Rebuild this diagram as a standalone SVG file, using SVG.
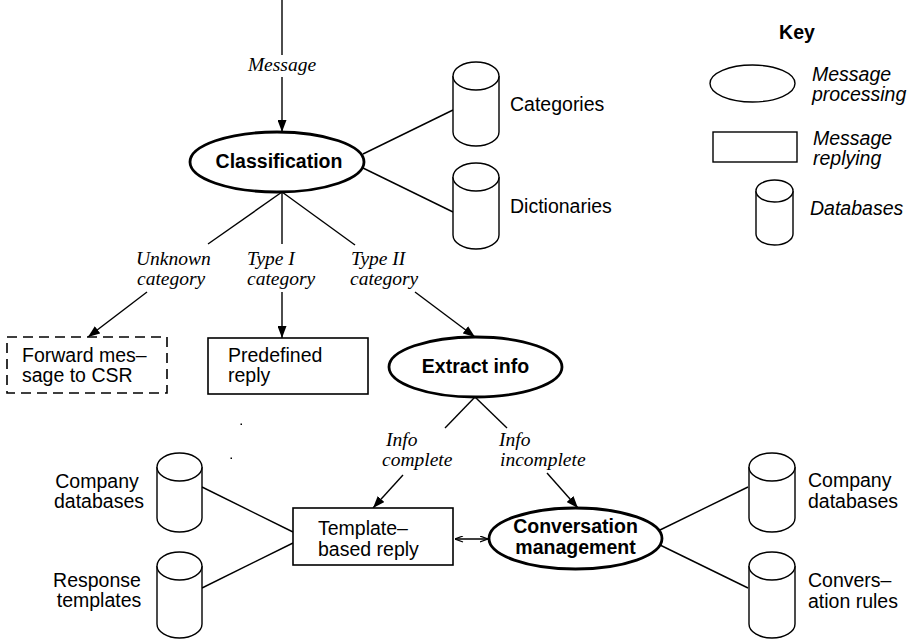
<svg xmlns="http://www.w3.org/2000/svg" width="913" height="641" viewBox="0 0 913 641">
<defs>
<marker id="arr" markerUnits="userSpaceOnUse" markerWidth="13" markerHeight="9" refX="12" refY="4.5" orient="auto"><path d="M0,0 L12,4.5 L0,9 z" fill="#000"/></marker>
<marker id="sarr" markerUnits="userSpaceOnUse" markerWidth="9" markerHeight="7" refX="8" refY="3" orient="auto"><path d="M0,0 L8,3 L0,6" fill="none" stroke="#000" stroke-width="1.3"/></marker>
<marker id="sarrs" markerUnits="userSpaceOnUse" markerWidth="9" markerHeight="7" refX="0" refY="3" orient="auto"><path d="M8,0 L0,3 L8,6" fill="none" stroke="#000" stroke-width="1.3"/></marker>
</defs>
<style>
.sans{font-family:"Liberation Sans",Arial,sans-serif;font-size:19.5px;fill:#000}
.b{font-weight:bold}
.it{font-style:italic}
.lbl{font-family:"Liberation Serif","Times New Roman",serif;font-style:italic;font-size:19.5px;fill:#000}
.proc{fill:#fff;stroke:#000;stroke-width:2.8}
.box{fill:#fff;stroke:#000;stroke-width:1.6}
.db{fill:#fff;stroke:#000;stroke-width:1.4}
.ln{fill:none;stroke:#000;stroke-width:1.4}
</style>
<rect width="913" height="641" fill="#fff"/>

<g id="connectors">
<line class="ln" x1="282" y1="0" x2="282" y2="55"/>
<line class="ln" x1="282" y1="77" x2="282" y2="132" marker-end="url(#arr)"/>
<line class="ln" x1="282" y1="192" x2="208" y2="244"/>
<line class="ln" x1="147" y1="292" x2="88" y2="337" marker-end="url(#arr)"/>
<line class="ln" x1="282" y1="192" x2="282" y2="244"/>
<line class="ln" x1="282" y1="292" x2="282" y2="338" marker-end="url(#arr)"/>
<line class="ln" x1="282" y1="192" x2="355" y2="245"/>
<line class="ln" x1="415" y1="292" x2="475" y2="337" marker-end="url(#arr)"/>
<line class="ln" x1="475" y1="397" x2="445" y2="428"/>
<line class="ln" x1="403" y1="475" x2="373" y2="508" marker-end="url(#arr)"/>
<line class="ln" x1="475" y1="397" x2="507" y2="428"/>
<line class="ln" x1="547" y1="473" x2="578" y2="508" marker-end="url(#arr)"/>
<line class="ln" x1="455" y1="539" x2="488" y2="539" marker-start="url(#sarrs)" marker-end="url(#sarr)"/>
<line class="ln" x1="363" y1="154" x2="453" y2="110"/>
<line class="ln" x1="363" y1="168" x2="453" y2="212"/>
<line class="ln" x1="202" y1="487" x2="293" y2="532"/>
<line class="ln" x1="202" y1="588" x2="293" y2="543"/>
<line class="ln" x1="660" y1="530" x2="748" y2="487"/>
<line class="ln" x1="660" y1="545" x2="748" y2="588"/>
<text class="lbl" x="282" y="71" text-anchor="middle">Message</text>
<text class="lbl" x="136" y="265">Unknown</text>
<text class="lbl" x="137" y="285">category</text>
<text class="lbl" x="247" y="265">Type I</text>
<text class="lbl" x="247" y="285">category</text>
<text class="lbl" x="351" y="265">Type II</text>
<text class="lbl" x="350" y="285">category</text>
<text class="lbl" x="386" y="446">Info</text>
<text class="lbl" x="382" y="466">complete</text>
<text class="lbl" x="499" y="446">Info</text>
<text class="lbl" x="500" y="466">incomplete</text>
</g>

<g id="classification">
<ellipse class="proc" cx="277" cy="162" rx="87" ry="30"/>
<text class="sans b" x="279" y="168" text-anchor="middle">Classification</text>
</g>

<g id="categories">
<path class="db" d="M453,76 V132 A23,14 0 0 0 499,132 V76"/>
<ellipse class="db" cx="476" cy="76" rx="23" ry="14"/>
<text class="sans" x="510" y="111">Categories</text>
</g>

<g id="dictionaries">
<path class="db" d="M453,177 V235 A23,14 0 0 0 499,235 V177"/>
<ellipse class="db" cx="476" cy="177" rx="23" ry="14"/>
<text class="sans" x="510" y="213">Dictionaries</text>
</g>

<g id="forward">
<rect class="box" x="7" y="337" width="160" height="56" stroke-dasharray="10,6"/>
<text class="sans" x="22" y="362">Forward mes–</text>
<text class="sans" x="22" y="382">sage to CSR</text>
</g>

<g id="predefined">
<rect class="box" x="208" y="338" width="160" height="56"/>
<text class="sans" x="228" y="362">Predefined</text>
<text class="sans" x="228" y="382">reply</text>
</g>

<g id="extract">
<ellipse class="proc" cx="475.5" cy="367" rx="86.5" ry="30"/>
<text class="sans b" x="475.5" y="373" text-anchor="middle">Extract info</text>
</g>

<g id="template">
<rect class="box" x="293" y="508" width="160" height="57"/>
<text class="sans" x="318" y="535">Template–</text>
<text class="sans" x="318" y="556">based reply</text>
</g>

<g id="conversation">
<ellipse class="proc" cx="575.5" cy="538.5" rx="86.5" ry="30.5"/>
<text class="sans b" x="575.5" y="533" text-anchor="middle">Conversation</text>
<text class="sans b" x="575.5" y="554" text-anchor="middle">management</text>
</g>

<g id="company-left">
<path class="db" d="M157,467 V518 A22.5,14 0 0 0 202,518 V467"/>
<ellipse class="db" cx="179.5" cy="467" rx="22.5" ry="14"/>
<text class="sans" x="97" y="488" text-anchor="middle">Company</text>
<text class="sans" x="99" y="508" text-anchor="middle">databases</text>
</g>

<g id="response">
<path class="db" d="M157,566 V624 A22.5,14 0 0 0 202,624 V566"/>
<ellipse class="db" cx="179.5" cy="566" rx="22.5" ry="14"/>
<text class="sans" x="97" y="587" text-anchor="middle">Response</text>
<text class="sans" x="99" y="607" text-anchor="middle">templates</text>
</g>

<g id="company-right">
<path class="db" d="M749,467 V518 A23,14 0 0 0 795,518 V467"/>
<ellipse class="db" cx="772" cy="467" rx="23" ry="14"/>
<text class="sans" x="808" y="487">Company</text>
<text class="sans" x="808" y="508">databases</text>
</g>

<g id="conv-rules">
<path class="db" d="M749,566 V624 A23,14 0 0 0 795,624 V566"/>
<ellipse class="db" cx="772" cy="566" rx="23" ry="14"/>
<text class="sans" x="808" y="587">Convers–</text>
<text class="sans" x="808" y="608">ation rules</text>
</g>

<g id="key">
<text class="sans b" x="797" y="39" text-anchor="middle">Key</text>
<ellipse class="db" cx="752.5" cy="83.5" rx="42.5" ry="18.5"/>
<text class="sans it" x="812" y="81">Message</text>
<text class="sans it" x="812" y="101">processing</text>
<rect class="db" x="713" y="132" width="84" height="30"/>
<text class="sans it" x="813" y="145">Message</text>
<text class="sans it" x="813" y="165">replying</text>
<path class="db" d="M756,191 V234 A18.5,11 0 0 0 793,234 V191"/>
<ellipse class="db" cx="774.5" cy="191" rx="18.5" ry="11"/>
<text class="sans it" x="810" y="215">Databases</text>
</g>

<g id="specks">
<rect x="240.5" y="423.5" width="1.5" height="1.5" fill="#000"/>
<rect x="230.5" y="457.5" width="1.5" height="1.5" fill="#000"/>
</g>
</svg>
